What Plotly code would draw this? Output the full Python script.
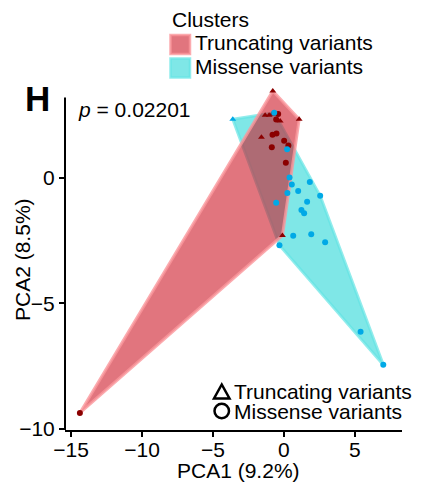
import plotly.graph_objects as go

# ---- data ----
pc1 = [-0.78, 1.08, -1.32, -1.04, -0.83, -0.26, -1.58, -0.10,
       -0.40, -0.54, -0.80, -0.52, 0.02, 0.32, -0.85, 0.14, -14.38,
       -3.60,
       -0.68, 0.23, 0.40, 0.56, 1.83, 0.25, 1.01, 2.56, -0.54, 1.64,
       1.24, 1.43, 0.66, 1.93, 2.91, -0.31, 5.41, 7.01]
pc2 = [3.47, 2.34, 2.50, 2.50, 2.54, 2.27, 1.63, -2.29,
       2.55, 2.33, 1.73, 1.78, 1.49, 1.30, 1.23, 0.61, -9.37,
       2.34,
       2.60, 1.15, 0.02, -0.26, -0.16, -0.60, -0.52, -0.71, -0.99, -0.95,
       -1.28, -1.41, -2.30, -2.24, -2.56, -2.68, -6.13, -7.45]
variant_type = (["Truncating variants"] * 8 + ["Missense variants"] * 9 +
                ["Truncating variants"] + ["Missense variants"] * 18)
cluster = (["Truncating variants"] * 17 + ["Missense variants"] * 19)

cluster_names = ["Truncating variants", "Missense variants"]
type_names = ["Truncating variants", "Missense variants"]
legend_title = "Clusters"
p_text = "<i>p</i> = 0.02201"
panel_label = "H"
x_title = "PCA1 (9.2%)"
y_title = "PCA2 (8.5%)"
x_ticks = [-15, -10, -5, 0, 5]
y_ticks = [-10, -5, 0]

# ---- styles ----
FONT = "Liberation Sans, Arial, sans-serif"
hull_fill = {"Truncating variants": "rgba(205,25,40,0.6)",
             "Missense variants": "rgba(0,208,208,0.5)"}
hull_line = {"Truncating variants": "rgba(250,150,155,0.8)",
             "Missense variants": "rgba(100,228,228,0.7)"}
point_color = {"Truncating variants": "#8B0000",
               "Missense variants": "#00A9E6"}
symbol_map = {"Truncating variants": "triangle-up",
              "Missense variants": "circle"}


def convex_hull(pts):
    pts = sorted(set(pts))
    if len(pts) <= 2:
        return pts

    def cross(o, a, b):
        return (a[0] - o[0]) * (b[1] - o[1]) - (a[1] - o[1]) * (b[0] - o[0])
    lower, upper = [], []
    for p in pts:
        while len(lower) >= 2 and cross(lower[-2], lower[-1], p) <= 0:
            lower.pop()
        lower.append(p)
    for p in reversed(pts):
        while len(upper) >= 2 and cross(upper[-2], upper[-1], p) <= 0:
            upper.pop()
        upper.append(p)
    return lower[:-1] + upper[:-1]


fig = go.Figure()

# hulls: cyan first, red on top
for cl in ["Missense variants", "Truncating variants"]:
    pts = [(x, y) for x, y, c in zip(pc1, pc2, cluster) if c == cl]
    hull = convex_hull(pts)
    hx = [p[0] for p in hull] + [hull[0][0]]
    hy = [p[1] for p in hull] + [hull[0][1]]
    fig.add_trace(go.Scatter(x=hx, y=hy, mode="lines", fill="toself",
                             fillcolor=hull_fill[cl],
                             line=dict(color=hull_line[cl], width=3),
                             showlegend=False, hoverinfo="skip"))

# points
for cl in cluster_names:
    for vt in type_names:
        xs = [x for x, c, t in zip(pc1, cluster, variant_type) if c == cl and t == vt]
        ys = [y for y, c, t in zip(pc2, cluster, variant_type) if c == cl and t == vt]
        if not xs:
            continue
        fig.add_trace(go.Scatter(x=xs, y=ys, mode="markers",
                                 marker=dict(color=point_color[cl],
                                             symbol=symbol_map[vt], size=6,
                                             line=dict(width=0)),
                                 showlegend=False, cliponaxis=False))

# plot geometry (pixels) for paper-coordinate helpers
W, H = 427, 487
ML, MR, MT, MB = 65, 25, 84, 57
PW, PH = W - ML - MR, H - MT - MB


def px(xp):
    return (xp - ML) / PW


def py(yp):
    return (H - MB - yp) / PH


shapes = []
annotations = []

# y axis line (shorter than plot area, as in the reference)
shapes.append(dict(type="line", xref="paper", yref="y", x0=0, x1=0,
                   y0=-10.05, y1=3.21, line=dict(color="black", width=2)))

# top cluster legend
annotations.append(dict(text=legend_title, x=px(170), y=py(19.5), xref="paper", yref="paper",
                        xanchor="left", yanchor="middle", showarrow=False,
                        font=dict(size=21, color="black", family=FONT)))
key_y = [44.5, 68]
for name, ky in zip(cluster_names, key_y):
    shapes.append(dict(type="rect", xref="paper", yref="paper",
                       x0=px(170.5), x1=px(190), y0=py(ky - 9.5), y1=py(ky + 9.5),
                       fillcolor=hull_fill[name], line=dict(color=hull_line[name], width=2.5)))
    annotations.append(dict(text=name, x=px(193), y=py(ky - 1.5), xref="paper", yref="paper",
                            xanchor="left", yanchor="middle", showarrow=False,
                            font=dict(size=21, color="black", family=FONT)))

# bottom shape legend
leg_y = [391.5, 411]
for name, ly in zip(type_names, leg_y):
    if symbol_map[name] == "triangle-up":
        path = "M {} {} L {} {} L {} {} Z".format(px(214), py(ly + 7), px(229.5), py(ly + 7),
                                                   px(221.75), py(ly - 7))
        shapes.append(dict(type="path", xref="paper", yref="paper", path=path,
                           line=dict(color="black", width=2.5)))
    else:
        shapes.append(dict(type="circle", xref="paper", yref="paper",
                           x0=px(214.5), x1=px(229), y0=py(ly - 7.25), y1=py(ly + 7.25),
                           line=dict(color="black", width=2.5)))
    annotations.append(dict(text=name, x=px(232), y=py(ly), xref="paper", yref="paper",
                            xanchor="left", yanchor="middle", showarrow=False,
                            font=dict(size=21, color="black", family=FONT)))

# panel label and p-value
annotations.append(dict(text="<b>" + panel_label + "</b>", x=px(37), y=py(98),
                        xref="paper", yref="paper", xanchor="center", yanchor="middle",
                        showarrow=False, font=dict(size=35, color="black", family=FONT)))
annotations.append(dict(text=p_text, x=px(76), y=py(109), xref="paper", yref="paper",
                        xanchor="left", yanchor="middle", showarrow=False,
                        font=dict(size=21, color="black", family=FONT)))

# axis titles
annotations.append(dict(text=x_title, x=px(238), y=py(470), xref="paper", yref="paper",
                        xanchor="center", yanchor="middle", showarrow=False,
                        font=dict(size=21, color="black", family=FONT)))
annotations.append(dict(text=y_title, x=px(22), y=py(260), xref="paper", yref="paper",
                        xanchor="center", yanchor="middle", showarrow=False, textangle=-90,
                        font=dict(size=21, color="black", family=FONT)))

fig.update_layout(
    width=W, height=H,
    margin=dict(l=ML, r=MR, t=MT, b=MB, autoexpand=False),
    paper_bgcolor="white", plot_bgcolor="white",
    showlegend=False,
    font=dict(family=FONT, size=21, color="black"),
    shapes=shapes, annotations=annotations,
    xaxis=dict(range=[-15.43, 8.33], tickvals=x_ticks, showgrid=False, zeroline=False,
               showline=True, linecolor="black", linewidth=2, automargin=False,
               ticks="outside", ticklen=5, tickwidth=2, tickcolor="black",
               ticklabelstandoff=-5,
               tickfont=dict(size=21, color="black")),
    yaxis=dict(range=[-10.05, 3.75], tickvals=y_ticks, showgrid=False, zeroline=False,
               showline=False, automargin=False,
               ticks="outside", ticklen=5, tickwidth=2, tickcolor="black",
               tickfont=dict(size=21, color="black")),
)

fig.write_html("out.html", config={"displayModeBar": False},
               post_script="document.body.style.margin='0px';")
